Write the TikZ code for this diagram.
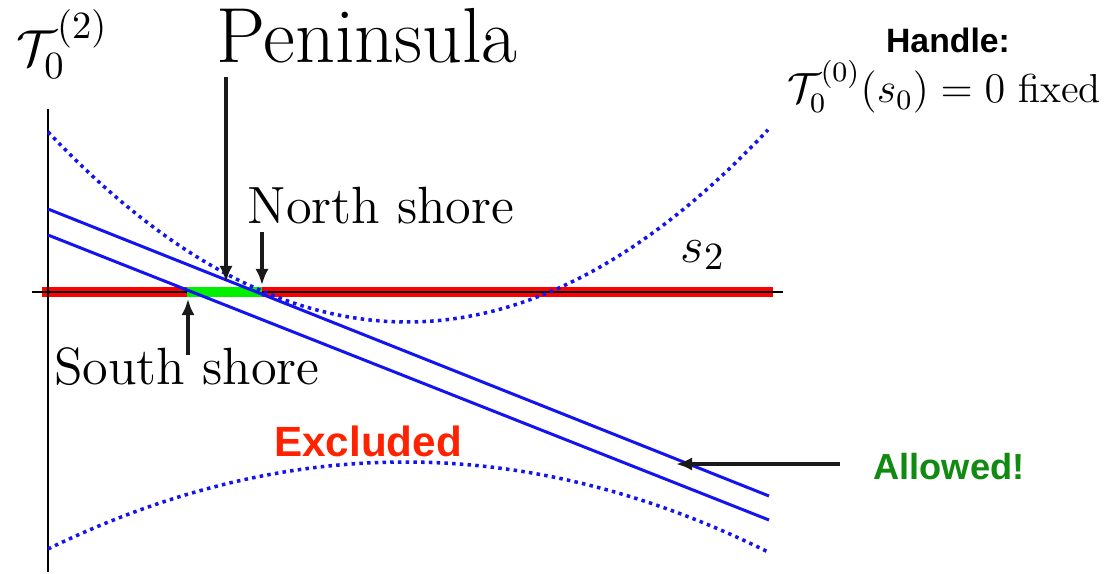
\documentclass[tikz,border=0pt]{standalone}
\usepackage{fontspec}
\newfontfamily\tagfont{Liberation Sans}
\usetikzlibrary{arrows.meta}
\definecolor{cblue}{HTML}{1414F0}
\definecolor{cbar}{HTML}{FF0000}
\definecolor{cgood}{HTML}{00F000}
\definecolor{ctxtred}{HTML}{FF2200}
\definecolor{ctxtgreen}{HTML}{108A10}
\definecolor{cink}{HTML}{1A1A1A}
\tikzset{
  every picture/.style={x=0.01cm, y=-0.01cm},
  bline/.style={draw=cblue, line width=0.85pt},
  bound/.style={draw=cblue, line width=1pt, dash pattern=on 1pt off 1.2pt},
  ptr/.style={-{Latex[length=4.6pt, width=3.8pt]}, draw=cink, line width=1.1pt},
  lbl/.style={inner sep=0pt, anchor=base, font=\fontsize{#1}{#1}\selectfont},
  lbl/.default=14.9,
  tag/.style={inner sep=0pt, anchor=base, font=\tagfont\bfseries\fontsize{#1}{#1}\selectfont},
}

\begin{document}
\begin{tikzpicture}
  \useasboundingbox (0,0) rectangle (1110,573);
  % bars on the s_2 axis
  \draw[cbar, line width=2.85pt] (42,292) -- (773,292);
  \draw[line width=0.45pt] (32,292) -- (783,292);
  \draw[line width=0.45pt] (48,572) -- (48,109);
  \draw[cgood, line width=2.85pt] (187,292) -- (262,292);
  % bounds and the two lines
  \draw[bound] plot[domain=48:768, samples=80] (\x, {322-(0.0384*(\x-407))^2});
  \draw[bound] plot[domain=48:768, samples=80] (\x, {462+(0.02613*(\x-405))^2});
  \draw[bline] (48,209) -- (769,496);
  \draw[bline] (48,235) -- (769,520);
  % labels
  \node[lbl=15.3, anchor=base west] (tz) at (16,66) {$\mathcal{T}_0^{(2)}$};
  \node[lbl=22.2] (pen) at (367,63) {Peninsula};
  \node[lbl] (north) at (381,223) {North shore};
  \node[lbl] (south) at (187,384) {South shore};
  \node[lbl=15] (s2) at (703,262) {$s_2$};
  \node[tag=9.6] (handle) at (948,53) {Handle:};
  \node[lbl=11.5] (fix) at (944,103) {$\mathcal{T}_0^{(0)}(s_0) = 0$ fixed};
  \node[tag=12, text=ctxtred] (excl) at (368,456) {Excluded};
  \node[tag=10.3, text=ctxtgreen] (allow) at (949,479) {Allowed!};
  % pointers
  \coordinate (penTail) at (226,77);
  \coordinate (penTip) at (226,282);
  \coordinate (northTail) at (262,232);
  \coordinate (northTip) at (262,285);
  \coordinate (southTail) at (188,355);
  \coordinate (southTip) at (188,299);
  \coordinate (allowTail) at (840,464);
  \coordinate (allowTip) at (676,464);
  \draw[ptr] (penTail) -- (penTip);
  \draw[ptr] (northTail) -- (northTip);
  \draw[ptr] (southTail) -- (southTip);
  \draw[ptr] (allowTail) -- (allowTip);
\end{tikzpicture}
\end{document}
